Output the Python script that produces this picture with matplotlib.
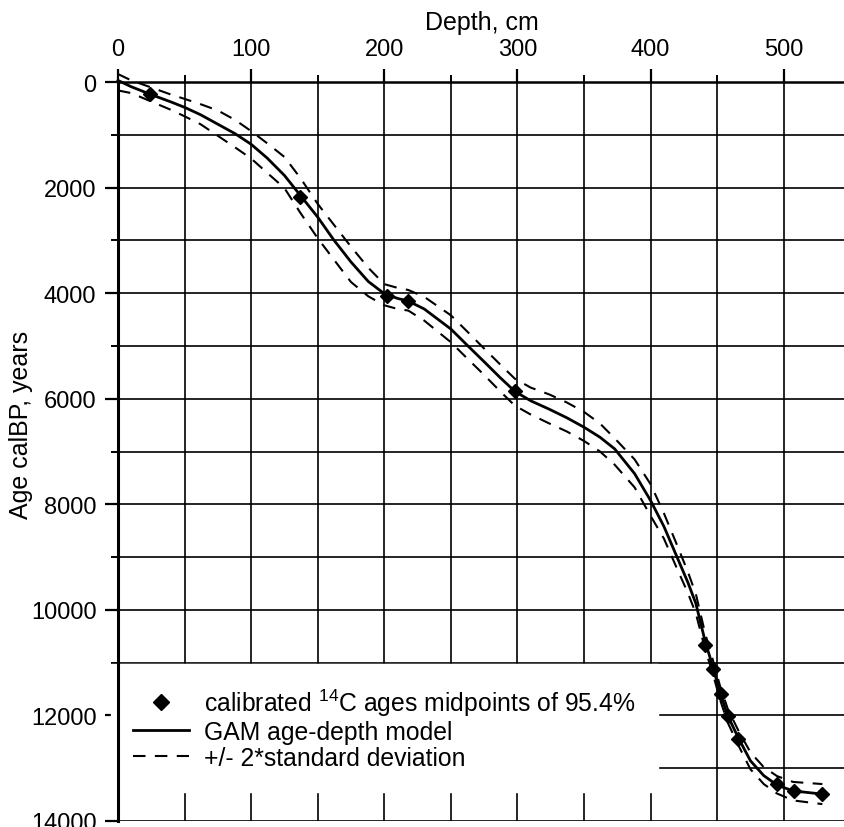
import matplotlib
matplotlib.use('agg')

import numpy as np
import matplotlib.pyplot as plt
from matplotlib.ticker import MultipleLocator

plt.rcParams['font.family'] = ['Liberation Sans', 'DejaVu Sans']
plt.rcParams['mathtext.fontset'] = 'custom'
plt.rcParams['mathtext.rm'] = 'Liberation Sans'

# calibrated 14C ages (midpoints of 95.4% ranges)
pt_depth = [24, 137, 202, 218, 298, 441, 447, 452.5, 458, 466, 495, 507.5, 529]
pt_age = [230, 2175, 4050, 4140, 5855, 10670, 11120, 11590, 12015, 12445, 13300, 13425, 13490]

# GAM model curve
gam_depth = [0, 10, 24, 40, 50, 62, 75, 88, 100, 112, 125, 137, 150, 162, 175, 188,
             200, 210, 218, 230, 250, 262, 275, 287, 298, 310, 324, 337, 350, 362,
             373, 388, 400, 410, 419, 428, 434, 441, 447, 452, 458, 466, 475, 485,
             495, 507, 529]
gam_age = [-30, 90, 230, 380, 480, 620, 800, 980, 1180, 1440, 1770, 2150, 2560, 2990,
           3410, 3780, 4010, 4100, 4150, 4300, 4680, 4980, 5300, 5600, 5860, 6040,
           6200, 6360, 6540, 6730, 6950, 7420, 7930, 8420, 8950, 9480, 9880, 10600,
           11100, 11560, 12010, 12430, 12860, 13140, 13320, 13430, 13490]

# +/- 2 sd band
sd_upper = [-150, -30, 95, 240, 320, 420, 540, 720, 930, 1160, 1420, 1820, 2310, 2700,
            3120, 3520, 3830, 3900, 3940, 4070, 4420, 4720, 5050, 5350, 5620, 5790,
            5920, 6070, 6250, 6470, 6750, 7150, 7620, 8170, 8720, 9280, 9700, 10450,
            10970, 11430, 11880, 12290, 12700, 12980, 13150, 13260, 13300]
sd_lower = [160, 210, 360, 530, 650, 800, 1020, 1240, 1450, 1720, 2010, 2480, 2960,
            3360, 3790, 4060, 4230, 4300, 4330, 4520, 4930, 5230, 5550, 5860, 6130,
            6300, 6470, 6620, 6800, 7000, 7250, 7680, 8220, 8650, 9170, 9680, 10070,
            10750, 11230, 11690, 12140, 12570, 13020, 13300, 13480, 13610, 13680]

W, H = 845, 828
fig = plt.figure(figsize=(W / 100, H / 100), dpi=100)
ax = fig.add_axes([118 / W, 1 - 822 / H, 727 / W, 739 / H])

ax.set_xlim(0, 546)
ax.set_ylim(14000, 0)

ax.xaxis.set_major_locator(MultipleLocator(100))
ax.xaxis.set_minor_locator(MultipleLocator(50))
ax.yaxis.set_major_locator(MultipleLocator(2000))
ax.yaxis.set_minor_locator(MultipleLocator(1000))

ax.xaxis.tick_top()
ax.xaxis.set_label_position('top')
ax.tick_params(axis='both', which='major', direction='out', length=9.5, width=1.6,
               labelsize=17, color='black')
ax.tick_params(axis='both', which='minor', direction='out', length=5, width=1.4)
ax.tick_params(axis='x', which='both', top=True, bottom=False, pad=6)
ax.tick_params(axis='y', which='both', left=True, right=False, pad=6)

ax.grid(True, which='both', color='black', linewidth=1.2, zorder=0)
ax.set_axisbelow(True)

for s in ['right', 'bottom']:
    ax.spines[s].set_visible(False)
ax.spines['left'].set_linewidth(2.2)
ax.spines['top'].set_linewidth(1.8)
ax.spines['left'].set_zorder(10)

ax.set_xlabel('Depth, cm', fontsize=18, labelpad=7)
ax.set_ylabel('Age calBP, years', fontsize=18)
ax.yaxis.set_label_coords(-0.117, 0.537)

ax.plot(gam_depth, sd_upper, color='black', lw=1.5, dashes=(6, 4.5), clip_on=False, zorder=3)
ax.plot(gam_depth, sd_lower, color='black', lw=1.5, dashes=(6, 4.5), clip_on=False, zorder=3)
ax.plot(gam_depth, gam_age, color='black', lw=2.0, clip_on=False, zorder=4)
ax.plot(pt_depth, pt_age, linestyle='none', marker='D', ms=7, color='black', zorder=5)

# legend proxies
h1, = ax.plot([], [], linestyle='none', marker='D', ms=8, color='black')
h2, = ax.plot([], [], color='black', lw=2.0)
h3, = ax.plot([], [], color='black', lw=1.5, dashes=(6, 4.5))
leg = ax.legend([h1, h2, h3],
                [r'calibrated $\mathregular{^{14}}$C ages midpoints of 95.4%',
                 'GAM age-depth model', '+/- 2*standard deviation'],
                loc='upper left', bbox_to_anchor=(-0.0096, 0.2125), borderaxespad=0,
                fontsize=17.8, frameon=True, fancybox=False, framealpha=1,
                handlelength=2.26, handletextpad=0.62, labelspacing=0.08,
                borderpad=0.9)
leg.get_frame().set_facecolor('white')
leg.get_frame().set_edgecolor('white')
leg.set_zorder(6)

fig.savefig('out.png', dpi=100)
